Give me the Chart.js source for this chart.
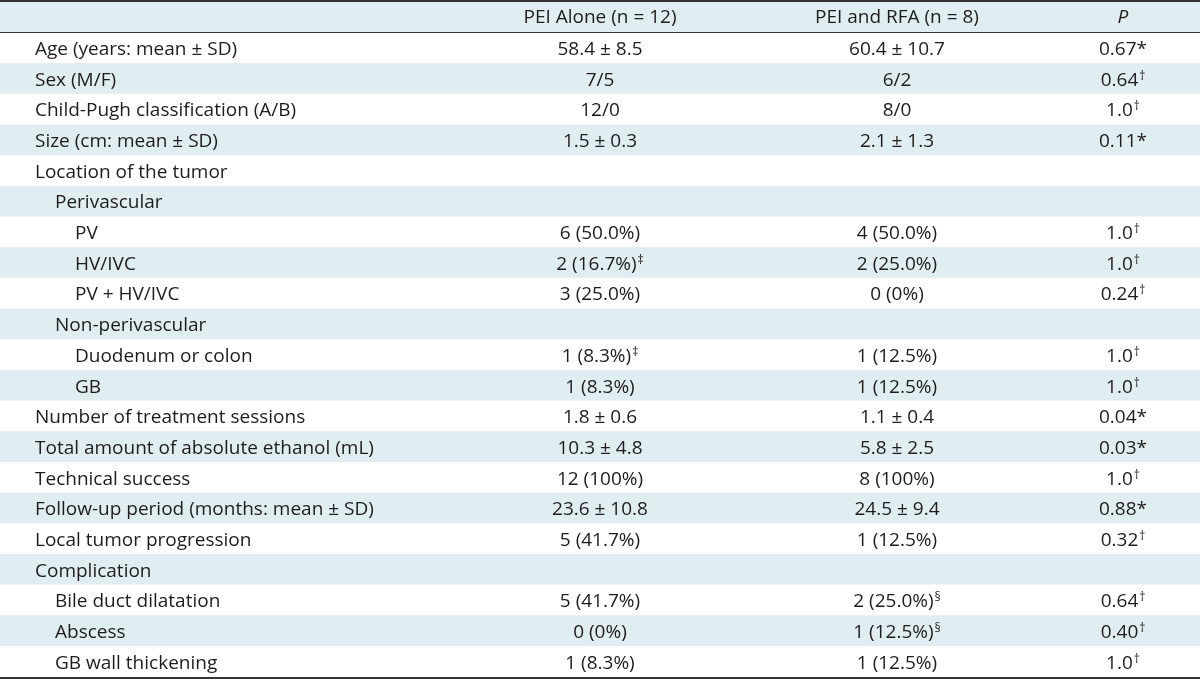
<!DOCTYPE html>
<html>
<head>
<meta charset="utf-8">
<script src="https://cdn.jsdelivr.net/npm/chart.js@4.4.1/dist/chart.umd.min.js"></script>
<style>
  html, body { margin: 0; padding: 0; background: #ffffff; }
  canvas { display: block; }
</style>
</head>
<body>
<canvas id="c" width="1200" height="680"></canvas>
<script>
// ---- table data ----
const headers = ["", "PEI Alone (n = 12)", "PEI and RFA (n = 8)", "P"];
const rowLabels = [
  "Age (years: mean \u00b1 SD)",
  "Sex (M/F)",
  "Child-Pugh classification (A/B)",
  "Size (cm: mean \u00b1 SD)",
  "Location of the tumor",
  "Perivascular",
  "PV",
  "HV/IVC",
  "PV + HV/IVC",
  "Non-perivascular",
  "Duodenum or colon",
  "GB",
  "Number of treatment sessions",
  "Total amount of absolute ethanol (mL)",
  "Technical success",
  "Follow-up period (months: mean \u00b1 SD)",
  "Local tumor progression",
  "Complication",
  "Bile duct dilatation",
  "Abscess",
  "GB wall thickening"
];
const indentLevels = [0,0,0,0,0,1,2,2,2,1,2,2,0,0,0,0,0,0,1,1,1];
const peiAlone = [
  "58.4 \u00b1 8.5", "7/5", "12/0", "1.5 \u00b1 0.3", "", "",
  "6 (50.0%)", "2 (16.7%)\u2021", "3 (25.0%)", "",
  "1 (8.3%)\u2021", "1 (8.3%)", "1.8 \u00b1 0.6", "10.3 \u00b1 4.8",
  "12 (100%)", "23.6 \u00b1 10.8", "5 (41.7%)", "",
  "5 (41.7%)", "0 (0%)", "1 (8.3%)"
];
const peiRfa = [
  "60.4 \u00b1 10.7", "6/2", "8/0", "2.1 \u00b1 1.3", "", "",
  "4 (50.0%)", "2 (25.0%)", "0 (0%)", "",
  "1 (12.5%)", "1 (12.5%)", "1.1 \u00b1 0.4", "5.8 \u00b1 2.5",
  "8 (100%)", "24.5 \u00b1 9.4", "1 (12.5%)", "",
  "2 (25.0%)\u00a7", "1 (12.5%)\u00a7", "1 (12.5%)"
];
const pValues = [
  "0.67*", "0.64\u2020", "1.0\u2020", "0.11*", "", "",
  "1.0\u2020", "1.0\u2020", "0.24\u2020", "",
  "1.0\u2020", "1.0\u2020", "0.04*", "0.03*",
  "1.0\u2020", "0.88*", "0.32\u2020", "",
  "0.64\u2020", "0.40\u2020", "1.0\u2020"
];

// ---- layout / style ----
const W = 1200;
const colCenters = [null, 600, 897, 1123];
const labelX = 35, indentStep = 20;
const FONT = "'Open Sans', 'Liberation Sans', sans-serif";
const FS = 19;
const TEXT = "#1e1c1c";
const STRIPE = "#e1eef1";
const LINE = "#333333";

const categories = ["header"].concat(rowLabels);
const fullRow = categories.map(() => W);

function drawCell(ctx, str, cx, y, align, italic) {
  const m = str.match(/^(.*?)([\u2020\u2021\u00a7]*)$/);
  const base = m[1], sup = m[2];
  ctx.font = (italic ? "italic " : "") + FS + "px " + FONT;
  const bw = ctx.measureText(base).width;
  ctx.font = "12px " + FONT;
  const sw = sup ? ctx.measureText(sup).width + 1 : 0;
  let x0 = align === "center" ? cx - (bw + sw) / 2 : cx;
  ctx.textAlign = "left";
  ctx.textBaseline = "alphabetic";
  ctx.fillStyle = TEXT;
  ctx.font = (italic ? "italic " : "") + FS + "px " + FONT;
  ctx.fillText(base, x0, y);
  if (sup) {
    ctx.font = "12px " + FONT;
    ctx.fillText(sup, x0 + bw + 1, y - 6);
  }
}

const tablePlugin = {
  id: "tableText",
  afterDatasetsDraw(chart) {
    const ctx = chart.ctx;
    const ys = chart.scales.y;
    const xs = chart.scales.x;
    const area = chart.chartArea;
    const half = (ys.getPixelForValue(1) - ys.getPixelForValue(0)) / 2;
    ctx.save();
    // header
    const hy = ys.getPixelForValue(0) + 5.5;
    for (let c = 1; c < headers.length; c++) {
      drawCell(ctx, headers[c], xs.getPixelForValue(colCenters[c]), hy, "center", c === 3);
    }
    // rows
    for (let r = 0; r < rowLabels.length; r++) {
      const y = ys.getPixelForValue(r + 1) + 7;
      drawCell(ctx, rowLabels[r], xs.getPixelForValue(labelX + indentLevels[r] * indentStep), y, "left", false);
      drawCell(ctx, peiAlone[r], xs.getPixelForValue(colCenters[1]), y, "center", false);
      drawCell(ctx, peiRfa[r], xs.getPixelForValue(colCenters[2]), y, "center", false);
      drawCell(ctx, pValues[r], xs.getPixelForValue(colCenters[3]), y, "center", false);
    }
    // rules
    ctx.strokeStyle = LINE;
    ctx.lineWidth = 2;
    ctx.beginPath();
    ctx.moveTo(area.left, area.top - 1); ctx.lineTo(area.right, area.top - 1);
    ctx.moveTo(area.left, area.bottom + 1); ctx.lineTo(area.right, area.bottom + 1);
    ctx.stroke();
    ctx.lineWidth = 1;
    const hb = Math.round(ys.getPixelForValue(0) + half) - 0.5;
    ctx.beginPath();
    ctx.moveTo(area.left, hb); ctx.lineTo(area.right, hb);
    ctx.stroke();
    ctx.restore();
  }
};

new Chart(document.getElementById("c"), {
  type: "bar",
  data: {
    labels: categories,
    datasets: [{
      data: fullRow,
      backgroundColor: (ctx) => (ctx.dataIndex === 0 || (ctx.dataIndex - 1) % 2 === 1) ? STRIPE : "#ffffff",
      borderWidth: 0,
      barPercentage: 1,
      categoryPercentage: 1
    }]
  },
  options: {
    indexAxis: "y",
    responsive: false,
    animation: false,
    events: [],
    layout: { padding: { top: 2, bottom: 3, left: 0, right: 0 } },
    plugins: { legend: { display: false }, tooltip: { enabled: false } },
    scales: {
      x: { type: "linear", min: 0, max: W, display: false },
      y: { type: "category", display: false, grid: { display: false } }
    }
  },
  plugins: [tablePlugin]
});
</script>
</body>
</html>
